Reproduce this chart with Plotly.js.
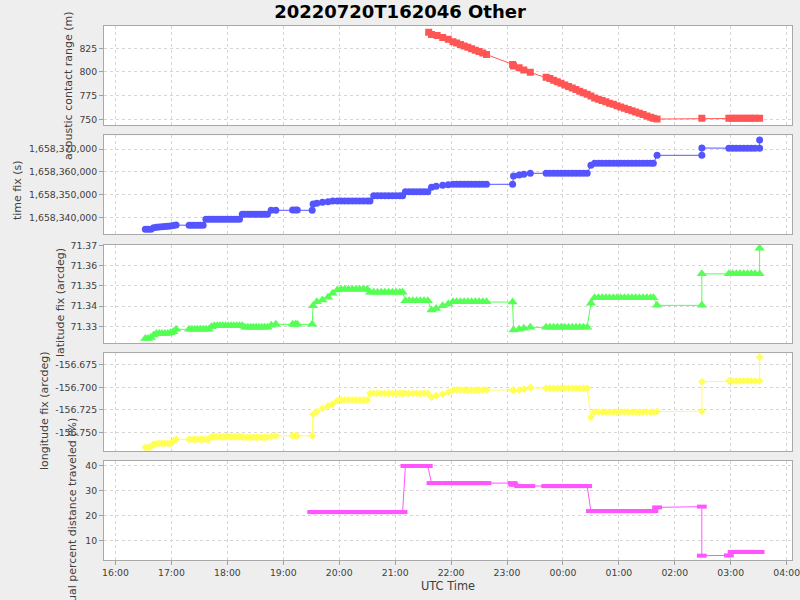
<!DOCTYPE html>
<html><head><meta charset="utf-8">
<script src="https://cdn.plot.ly/plotly-3.0.1.min.js"></script>
<style>html,body{margin:0;padding:0;background:#eeeeee;}#chart{width:800px;height:600px;}</style>
</head><body><div id="chart"></div>
<script>
const chartTitle = "20220720T162046 Other";
const xAxisTitle = "UTC Time";
const yTitles = ["acoustic contact range (m)", "time fix (s)", "latitude fix (arcdeg)", "longitude fix (arcdeg)", "dual percent distance traveled (%)"];

// shared record times (UTC, 2022-07-20 afternoon to 2022-07-21 morning)
const sharedTimes = [
"16:32","16:35","16:38","16:41","16:44","16:47","16:50","16:53","16:56","16:59","17:02","17:05",
"17:19","17:22","17:25","17:28","17:31","17:34","17:37","17:40",
"17:43","17:46","17:49","17:52","17:55","17:58","18:01","18:04","18:07","18:10","18:13","18:16",
"18:19","18:22","18:25","18:28","18:31","18:34","18:37","18:40","18:43",
"18:47","18:52",
"19:10","19:13","19:15",
"19:31",
"19:32","19:36","19:42","19:48","19:53","19:58",
"20:02","20:06","20:10","20:14","20:18","20:22","20:26","20:30","20:33",
"20:37","20:41","20:45","20:49","20:53","20:57","21:01","21:05","21:08",
"21:11","21:15","21:19","21:23","21:27","21:31","21:35",
"21:39","21:44","21:51","21:57",
"22:02","22:06","22:10","22:14","22:18","22:22","22:26","22:30","22:34","22:38",
"23:06",
"23:07","23:13","23:18","23:25",
"23:42","23:46","23:50","23:54","23:58","00:02","00:06","00:10","00:14","00:18","00:22","00:26",
"00:30",
"00:34","00:38","00:42","00:46","00:50","00:54","00:58","01:02","01:06","01:10","01:14","01:18","01:22","01:26","01:30","01:34","01:37",
"01:41",
"02:29",
"02:29",
"02:58","03:02","03:06","03:10","03:14","03:18","03:22","03:26","03:31",
"03:31"
];

const timeFix = [
1658335100,1658335100,1658335150,1658335800,1658335950,1658336100,1658336200,1658336300,1658336400,1658336550,1658336700,1658336900,
1658336850,1658336850,1658336850,1658336850,1658336850,1658336850,1658339400,1658339400,
1658339400,1658339400,1658339400,1658339400,1658339400,1658339400,1658339400,1658339400,1658339400,1658339400,1658339400,1658341600,
1658341600,1658341600,1658341600,1658341600,1658341600,1658341600,1658341600,1658341600,1658341600,
1658343350,1658343350,
1658343480,1658343480,1658343480,
1658343350,
1658346087,1658346400,1658346800,1658347100,1658347391,1658347391,
1658347391,1658347391,1658347391,1658347391,1658347391,1658347391,1658347391,1658347391,1658347391,
1658349700,1658349700,1658349700,1658349700,1658349700,1658349700,1658349700,1658349700,1658349700,
1658351435,1658351435,1658351435,1658351435,1658351435,1658351435,1658351435,
1658353350,1658353800,1658354200,1658354500,
1658354650,1658354650,1658354650,1658354650,1658354650,1658354650,1658354650,1658354650,1658354650,1658354650,
1658354650,
1658358260,1658358700,1658359000,1658359430,
1658359430,1658359430,1658359430,1658359430,1658359430,1658359430,1658359430,1658359430,1658359430,1658359430,1658359430,1658359430,
1658362910,
1658363780,1658363780,1658363780,1658363780,1658363780,1658363780,1658363780,1658363780,1658363780,1658363780,1658363780,1658363780,1658363780,1658363780,1658363780,1658363780,1658363780,
1658367260,
1658367260,
1658370435,
1658370300,1658370300,1658370300,1658370300,1658370300,1658370300,1658370300,1658370300,1658370300,
1658373910
];

const latitudeFix = [
71.3240,71.3240,71.3245,71.3257,71.3265,71.3265,71.3265,71.3265,71.3265,71.3268,71.3273,71.3285,
71.3285,71.3285,71.3285,71.3285,71.3285,71.3285,71.3285,71.3285,
71.3298,71.3303,71.3303,71.3303,71.3303,71.3303,71.3303,71.3303,71.3303,71.3303,71.3303,71.3303,
71.3295,71.3295,71.3295,71.3295,71.3295,71.3295,71.3295,71.3295,71.3295,
71.3305,71.3310,
71.3310,71.3310,71.3310,
71.3310,
71.3402,71.3422,71.3430,71.3444,71.3464,71.3480,
71.3484,71.3484,71.3484,71.3484,71.3484,71.3484,71.3484,71.3484,71.3469,
71.3469,71.3469,71.3469,71.3469,71.3469,71.3469,71.3469,71.3469,71.3469,
71.3427,71.3427,71.3427,71.3427,71.3427,71.3427,71.3427,
71.3381,71.3389,71.3402,71.3411,
71.3422,71.3422,71.3422,71.3422,71.3422,71.3422,71.3422,71.3422,71.3422,71.3422,
71.3420,
71.3282,71.3285,71.3290,71.3295,
71.3295,71.3295,71.3295,71.3295,71.3295,71.3295,71.3295,71.3295,71.3295,71.3295,71.3295,71.3295,
71.3414,
71.3442,71.3442,71.3442,71.3442,71.3442,71.3442,71.3442,71.3442,71.3442,71.3442,71.3442,71.3442,71.3442,71.3442,71.3442,71.3442,71.3442,
71.3404,
71.3404,
71.3560,
71.3560,71.3560,71.3560,71.3560,71.3560,71.3560,71.3560,71.3560,71.3560,
71.3687
];

const longitudeFix = [
-156.7668,-156.7668,-156.7660,-156.7631,-156.7625,-156.7623,-156.7623,-156.7623,-156.7623,-156.7623,-156.7600,-156.7578,
-156.7578,-156.7578,-156.7578,-156.7578,-156.7578,-156.7578,-156.7578,-156.7578,
-156.7549,-156.7549,-156.7549,-156.7549,-156.7549,-156.7549,-156.7549,-156.7549,-156.7549,-156.7549,-156.7549,-156.7549,
-156.7556,-156.7556,-156.7556,-156.7556,-156.7556,-156.7556,-156.7556,-156.7556,-156.7556,
-156.7545,-156.7538,
-156.7538,-156.7538,-156.7538,
-156.7538,
-156.7300,-156.7270,-156.7233,-156.7207,-156.7185,-156.7148,
-156.7140,-156.7140,-156.7140,-156.7140,-156.7140,-156.7140,-156.7140,-156.7140,-156.7066,
-156.7066,-156.7066,-156.7066,-156.7066,-156.7066,-156.7066,-156.7066,-156.7066,-156.7066,
-156.7066,-156.7066,-156.7066,-156.7066,-156.7066,-156.7066,-156.7066,
-156.7110,-156.7092,-156.7075,-156.7054,
-156.7029,-156.7029,-156.7029,-156.7029,-156.7029,-156.7029,-156.7029,-156.7029,-156.7029,-156.7029,
-156.7029,
-156.7036,-156.7029,-156.7020,-156.7003,
-156.7010,-156.7010,-156.7010,-156.7010,-156.7010,-156.7010,-156.7010,-156.7010,-156.7010,-156.7010,-156.7010,-156.7010,
-156.7333,
-156.7274,-156.7274,-156.7274,-156.7274,-156.7274,-156.7274,-156.7274,-156.7274,-156.7274,-156.7274,-156.7274,-156.7274,-156.7274,-156.7274,-156.7274,-156.7274,-156.7274,
-156.7266,
-156.7266,
-156.6936,
-156.6928,-156.6928,-156.6928,-156.6928,-156.6928,-156.6928,-156.6928,-156.6928,-156.6928,
-156.6664
];

const rangeTimes = [
"21:36","21:39","21:45","21:51","21:57",
"22:02","22:06","22:10","22:14","22:18","22:22","22:26","22:30","22:34","22:38",
"23:06","23:07","23:13","23:18","23:25",
"23:42","23:46","23:50","23:54","23:58","00:02","00:06","00:10","00:14","00:18","00:22","00:26",
"00:30",
"00:34","00:38","00:42","00:46","00:50","00:54","00:58","01:02","01:06","01:10","01:14","01:18","01:22","01:26","01:30","01:34","01:37",
"01:41","02:29",
"02:58","03:02","03:06","03:10","03:14","03:18","03:22","03:26","03:31"
];
const acousticRange = [
842,839.5,838.5,836.5,834.5,
832,830.5,829,827.5,826,824.5,823,821.5,820,818.5,
808,806.3,804.5,802,799.6,
794.5,793,791.3,789.7,788,786.3,784.7,783,781.4,779.7,778,776.4,
774.5,
772.5,771.2,769.8,768.5,767.1,765.8,764.4,763.1,761.7,760.4,759,757.7,756.3,755,753.6,752.3,751,
750.3,751,
751,751,751,751,751,751,751,751,751
];

const percentTimes = [
"19:31","19:32","19:36","19:42","19:48","19:53","19:58",
"20:02","20:06","20:10","20:14","20:18","20:22","20:26","20:30","20:33",
"20:37","20:41","20:45","20:49","20:53","20:57","21:01","21:05","21:08",
"21:11","21:15","21:19","21:23","21:27","21:31","21:35",
"21:39","21:44","21:51","21:57",
"22:02","22:06","22:10","22:14","22:18","22:22","22:26","22:30","22:34","22:38",
"23:06","23:07","23:13","23:18","23:25",
"23:42","23:46","23:50","23:54","23:58","00:02","00:06","00:10","00:14","00:18","00:22","00:26",
"00:30",
"00:34","00:38","00:42","00:46","00:50","00:54","00:58","01:02","01:06","01:10","01:14","01:18","01:22","01:26","01:30","01:34","01:37",
"01:41","02:29","02:29",
"02:58","03:02","03:06","03:10","03:14","03:18","03:22","03:26","03:31"
];
const percentTraveled = [
21.4,21.4,21.4,21.4,21.4,21.4,21.4,
21.4,21.4,21.4,21.4,21.4,21.4,21.4,21.4,21.4,
21.4,21.4,21.4,21.4,21.4,21.4,21.4,21.4,21.4,
40.0,40.0,40.0,40.0,40.0,40.0,40.0,
33.1,33.1,33.1,33.1,
33.1,33.1,33.1,33.1,33.1,33.1,33.1,33.1,33.1,33.1,
33.1,32.4,31.9,31.9,31.9,
31.9,31.9,31.9,31.9,31.9,31.9,31.9,31.9,31.9,31.9,31.9,31.9,
21.8,
21.8,21.8,21.8,21.8,21.8,21.8,21.8,21.8,21.8,21.8,21.8,21.8,21.8,21.8,21.8,21.8,21.8,
23.3,23.6,3.8,
3.9,5.3,5.3,5.3,5.3,5.3,5.3,5.3,5.3
];

const lonTickVals = [-156.75, -156.725, -156.7, -156.675];
const lonTickText = ["-156.750", "-156.725", "-156.700", "-156.675"];

function toDate(hm) {
  const h = parseInt(hm.slice(0, 2), 10);
  return (h >= 12 ? "2022-07-20 " : "2022-07-21 ") + hm + ":00";
}

const FONT = "DejaVu Sans, Verdana, sans-serif";
const GRID = "#d6d6d6";
const BORDER = "#a9a9a9";
const TXT = "#404040";
const xRange = ["2022-07-20 15:47:40", "2022-07-21 04:05:44"];

function xax(anchor, labels) {
  const a = {
    type: "date", range: xRange, anchor: anchor, domain: [0, 1],
    showgrid: true, gridcolor: GRID, griddash: "3px,3px", gridwidth: 1,
    dtick: 3600000, tick0: "2022-07-20 16:00:00", tickformat: "%H:%M",
    showline: true, mirror: true, linecolor: BORDER, linewidth: 1,
    zeroline: false, fixedrange: true, ticklabeloverflow: "allow",
    showticklabels: labels, ticks: labels ? "outside" : "", ticklen: 4, tickcolor: "#a0a0a0",
    tickfont: {family: FONT, size: 9.3, color: TXT}
  };
  if (labels) a.title = {text: xAxisTitle, font: {family: FONT, size: 11.4, color: TXT}, standoff: 4};
  return a;
}
function yax(anchor, domain, range, extra) {
  return Object.assign({
    anchor: anchor, domain: domain, range: range,
    showgrid: true, gridcolor: GRID, griddash: "3px,3px", gridwidth: 1,
    showline: true, mirror: true, linecolor: BORDER, linewidth: 1,
    zeroline: false, fixedrange: true,
    ticks: "outside", ticklen: 4, tickcolor: "#a0a0a0",
    tickfont: {family: FONT, size: 9.3, color: TXT}
  }, extra || {});
}

const traces = [
  {x: rangeTimes.map(toDate), y: acousticRange, xaxis: "x2", yaxis: "y", type: "scatter", mode: "lines+markers",
   line: {color: "#FF5555", width: 1}, marker: {symbol: "square", size: 7, color: "#FF5555"}, name: yTitles[0]},
  {x: sharedTimes.map(toDate), y: timeFix, xaxis: "x3", yaxis: "y2", type: "scatter", mode: "lines+markers",
   line: {color: "#5555FF", width: 1}, marker: {symbol: "circle", size: 7, color: "#5555FF"}, name: yTitles[1]},
  {x: sharedTimes.map(toDate), y: latitudeFix, xaxis: "x4", yaxis: "y3", type: "scatter", mode: "lines+markers",
   line: {color: "#55FF55", width: 1}, marker: {symbol: "triangle-up", size: 9, color: "#55FF55"}, name: yTitles[2]},
  {x: sharedTimes.map(toDate), y: longitudeFix, xaxis: "x5", yaxis: "y4", type: "scatter", mode: "lines+markers",
   line: {color: "#FFFF55", width: 1}, marker: {symbol: "diamond", size: 6, color: "#FFFF55"}, name: yTitles[3]},
  {x: percentTimes.map(toDate), y: percentTraveled, xaxis: "x", yaxis: "y5", type: "scatter", mode: "lines+markers",
   line: {color: "#FF55FF", width: 1}, marker: {symbol: "line-ew", size: 7, color: "#FF55FF", line: {color: "#FF55FF", width: 4}}, name: yTitles[4]}
];

const annFont = {family: FONT, size: 11, color: TXT};
function yTitle(i, xpx, ypx) {
  return {text: yTitles[i], xref: "paper", yref: "paper", x: (xpx - 104) / 688, y: (560 - ypx) / 534,
    xanchor: "center", yanchor: "middle", textangle: -90, showarrow: false, font: annFont};
}

const layout = {
  width: 800, height: 600,
  paper_bgcolor: "#eeeeee", plot_bgcolor: "#ffffff",
  margin: {l: 104, r: 8, t: 26, b: 40},
  showlegend: false,
  title: {text: chartTitle, font: {family: FONT, size: 18, color: "#000000", weight: "bold"},
          x: 0.5, xref: "container", y: 0.981, yref: "container", yanchor: "middle"},
  xaxis: xax("y5", true),
  xaxis2: xax("y", false),
  xaxis3: xax("y2", false),
  xaxis4: xax("y3", false),
  xaxis5: xax("y4", false),
  yaxis: yax("x2", [0.8140, 1.0], [743.66, 848.56], {dtick: 25, tick0: 0}),
  yaxis2: yax("x3", [0.6105, 0.7953], [1658333043, 1658375957], {dtick: 10000, tick0: 0, tickformat: ",d"}),
  yaxis3: yax("x4", [0.4058, 0.5899], [71.3216, 71.3703], {dtick: 0.01, tick0: 0}),
  yaxis4: yax("x5", [0.2041, 0.3871], [-156.7708, -156.6620], {tickmode: "array", tickvals: lonTickVals, ticktext: lonTickText}),
  yaxis5: yax("x", [0, 0.1854], [2.05, 42.02], {dtick: 10, tick0: 0}),
  annotations: [
    yTitle(0, 68, 86),
    yTitle(1, 18, 190),
    yTitle(2, 60, 303),
    yTitle(3, 44, 411),
    yTitle(4, 72, 514)
  ]
};

Plotly.newPlot("chart", traces, layout, {displayModeBar: false, staticPlot: true});
</script>
</body></html>
